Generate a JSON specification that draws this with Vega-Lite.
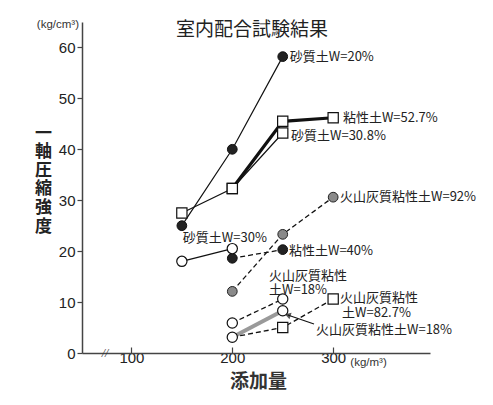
{
  "$schema": "https://vega.github.io/schema/vega-lite/v6.json",
  "width": 348,
  "height": 331,
  "autosize": {"type": "none"},
  "padding": {"left": 82, "top": 22, "right": 63, "bottom": 52},
  "background": "white",
  "config": {"view": {"stroke": null}, "font": "Noto Sans CJK JP"},
  "title": {"text": "室内配合試験結果", "anchor": "middle", "frame": "group", "fontSize": 19, "fontWeight": "normal", "font": "Noto Sans CJK JP", "color": "#222", "offset": -22, "baseline": "middle", "dx": -4, "dy": 8},
  "datasets": {
    "pts": [
      {"s": "砂質土W=20%", "x": 150, "y": 25},
      {"s": "砂質土W=20%", "x": 200, "y": 40},
      {"s": "砂質土W=20%", "x": 250, "y": 58.2},
      {"s": "砂質土W=30.8%", "x": 150, "y": 27.5},
      {"s": "砂質土W=30.8%", "x": 200, "y": 32.3},
      {"s": "砂質土W=30.8%", "x": 250, "y": 43.2},
      {"s": "粘性土W=52.7%", "x": 200, "y": 32.3},
      {"s": "粘性土W=52.7%", "x": 250, "y": 45.5},
      {"s": "粘性土W=52.7%", "x": 300, "y": 46.2},
      {"s": "砂質土W=30%", "x": 150, "y": 18},
      {"s": "砂質土W=30%", "x": 200, "y": 20.5},
      {"s": "粘性土W=40%", "x": 200, "y": 18.6},
      {"s": "粘性土W=40%", "x": 250, "y": 20.3},
      {"s": "火山灰質粘性土W=92%", "x": 200, "y": 12.1},
      {"s": "火山灰質粘性土W=92%", "x": 250, "y": 23.3},
      {"s": "火山灰質粘性土W=92%", "x": 300, "y": 30.6},
      {"s": "火山灰質粘性土W=18%(上)", "x": 200, "y": 5.9},
      {"s": "火山灰質粘性土W=18%(上)", "x": 250, "y": 10.6},
      {"s": "火山灰質粘性土W=18%(下)", "x": 200, "y": 3.1},
      {"s": "火山灰質粘性土W=18%(下)", "x": 250, "y": 8.3},
      {"s": "火山灰質粘性土W=82.7%", "x": 200, "y": 3.1},
      {"s": "火山灰質粘性土W=82.7%", "x": 250, "y": 5},
      {"s": "火山灰質粘性土W=82.7%", "x": 300, "y": 10.6}
    ],
    "labels": [
      {"t": "砂質土W=20%", "x": 257, "y": 58.1},
      {"t": "粘性土W=52.7%", "x": 309.7, "y": 46.1},
      {"t": "砂質土W=30.8%", "x": 258.2, "y": 42.6},
      {"t": "火山灰質粘性土W=92%", "x": 306.8, "y": 30.6},
      {"t": "砂質土W=30%", "x": 151, "y": 22.6},
      {"t": "粘性土W=40%", "x": 256.2, "y": 20},
      {"t": "火山灰質粘性", "x": 236.4, "y": 15.2},
      {"t": "土W=18%", "x": 236.4, "y": 12.4},
      {"t": "火山灰質粘性", "x": 306.8, "y": 10.8},
      {"t": "土W=82.7%", "x": 308.8, "y": 7.8},
      {"t": "火山灰質粘性土W=18%", "x": 283, "y": 4.6}
    ],
    "arrow": [
      {"x": 281, "y": 5.7, "o": 1},
      {"x": 255, "y": 7.45, "o": 2}
    ],
    "unitY": [{"t": "(kg/cm³)", "x": 50, "y": 64.4}],
    "unitX": [{"t": "(kg/m³)", "x": 317, "y": -2.0}],
    "brk": [{"t": "//", "x": 73.8, "y": 0}]
  },
  "layer": [
    {
      "data": {"name": "pts"},
      "transform": [{"filter": {"field": "s", "oneOf": ["砂質土W=20%", "砂質土W=30.8%", "砂質土W=30%"]}}],
      "mark": {"type": "line", "color": "#111", "strokeWidth": 1.2},
      "encoding": {
        "x": {"field": "x", "type": "quantitative", "scale": {"domain": [51, 396], "nice": false, "zero": false},
          "axis": {"title": "添加量", "values": [100, 200, 300], "grid": false, "tickSize": -6, "domainColor": "#444", "domainWidth": 1.5, "tickColor": "#444", "tickWidth": 1.2,
            "labelFont": "Liberation Sans", "labelFontSize": 15, "labelColor": "#222", "labelPadding": 3,
            "titleFont": "Noto Sans CJK JP", "titleFontSize": 19, "titleFontWeight": "bold", "titleColor": "#333", "titleBaseline": "middle", "titleY": 28, "titleX": 176}},
        "y": {"field": "y", "type": "quantitative", "scale": {"domain": [0, 65], "nice": false},
          "axis": {"title": ["一", "軸", "圧", "縮", "強", "度"], "values": [0, 10, 20, 30, 40, 50, 60], "grid": false, "tickSize": 5, "domainColor": "#444", "domainWidth": 1.5, "tickColor": "#444", "tickWidth": 1.2,
            "labelFont": "Liberation Sans", "labelFontSize": 15, "labelColor": "#222", "labelPadding": 2,
            "titleFont": "Noto Sans CJK JP", "titleFontSize": 17, "titleFontWeight": "bold", "titleColor": "#222", "titleAngle": 0, "titleAlign": "center", "titleBaseline": "middle", "titleLineHeight": 18.6, "titleX": -39, "titleY": 111}},
        "detail": {"field": "s"}
      }
    },
    {
      "data": {"name": "pts"},
      "transform": [{"filter": {"field": "s", "equal": "火山灰質粘性土W=18%(下)"}}],
      "mark": {"type": "line", "color": "#9a9a9a", "strokeWidth": 4},
      "encoding": {"x": {"field": "x", "type": "quantitative"}, "y": {"field": "y", "type": "quantitative"}}
    },
    {
      "data": {"name": "pts"},
      "transform": [{"filter": {"field": "s", "equal": "粘性土W=52.7%"}}],
      "mark": {"type": "line", "color": "#111", "strokeWidth": 3.2},
      "encoding": {"x": {"field": "x", "type": "quantitative"}, "y": {"field": "y", "type": "quantitative"}}
    },
    {
      "data": {"name": "pts"},
      "transform": [{"filter": {"field": "s", "oneOf": ["粘性土W=40%", "火山灰質粘性土W=92%", "火山灰質粘性土W=18%(上)", "火山灰質粘性土W=82.7%"]}}],
      "mark": {"type": "line", "color": "#111", "strokeWidth": 1.3, "strokeDash": [5, 3]},
      "encoding": {"x": {"field": "x", "type": "quantitative"}, "y": {"field": "y", "type": "quantitative"}, "detail": {"field": "s"}}
    },
    {
      "data": {"name": "arrow"},
      "mark": {"type": "line", "color": "#111", "strokeWidth": 1.1},
      "encoding": {"x": {"field": "x", "type": "quantitative"}, "y": {"field": "y", "type": "quantitative"}, "order": {"field": "o"}}
    },
    {
      "data": {"name": "arrow"},
      "transform": [{"filter": "datum.o === 2"}],
      "mark": {"type": "point", "shape": "triangle-up", "angle": 288, "size": 45, "filled": true, "color": "#111"},
      "encoding": {"x": {"field": "x", "type": "quantitative"}, "y": {"field": "y", "type": "quantitative"}}
    },
    {
      "data": {"name": "pts"},
      "transform": [{"filter": {"field": "s", "oneOf": ["砂質土W=20%", "粘性土W=40%"]}}],
      "mark": {"type": "point", "shape": "circle", "size": 95, "filled": true, "fill": "#222", "stroke": "#111", "strokeWidth": 1, "opacity": 1},
      "encoding": {"x": {"field": "x", "type": "quantitative"}, "y": {"field": "y", "type": "quantitative"}}
    },
    {
      "data": {"name": "pts"},
      "transform": [{"filter": {"field": "s", "equal": "火山灰質粘性土W=92%"}}],
      "mark": {"type": "point", "shape": "circle", "size": 95, "filled": true, "fill": "#8a8a8a", "stroke": "#222", "strokeWidth": 1, "opacity": 1},
      "encoding": {"x": {"field": "x", "type": "quantitative"}, "y": {"field": "y", "type": "quantitative"}}
    },
    {
      "data": {"name": "pts"},
      "transform": [{"filter": {"field": "s", "oneOf": ["砂質土W=30%", "火山灰質粘性土W=18%(上)", "火山灰質粘性土W=18%(下)"]}}],
      "mark": {"type": "point", "shape": "circle", "size": 105, "filled": true, "fill": "white", "stroke": "#111", "strokeWidth": 1.2, "opacity": 1},
      "encoding": {"x": {"field": "x", "type": "quantitative"}, "y": {"field": "y", "type": "quantitative"}}
    },
    {
      "data": {"name": "pts"},
      "transform": [
        {"filter": {"field": "s", "oneOf": ["粘性土W=52.7%", "砂質土W=30.8%", "火山灰質粘性土W=82.7%"]}},
        {"filter": "!(datum.s === '火山灰質粘性土W=82.7%' && datum.x === 200)"}
      ],
      "mark": {"type": "point", "shape": "square", "size": 105, "filled": true, "fill": "white", "stroke": "#111", "strokeWidth": 1.2, "opacity": 1},
      "encoding": {"x": {"field": "x", "type": "quantitative"}, "y": {"field": "y", "type": "quantitative"}}
    },
    {
      "data": {"name": "labels"},
      "mark": {"type": "text", "align": "left", "baseline": "middle", "fontSize": 13, "font": "Noto Sans CJK JP", "color": "#222"},
      "encoding": {"x": {"field": "x", "type": "quantitative"}, "y": {"field": "y", "type": "quantitative"}, "text": {"field": "t"}}
    },
    {
      "data": {"name": "unitY"},
      "mark": {"type": "text", "align": "right", "baseline": "middle", "fontSize": 11.5, "font": "Liberation Sans", "color": "#333", "dx": -2},
      "encoding": {"x": {"field": "x", "type": "quantitative"}, "y": {"field": "y", "type": "quantitative"}, "text": {"field": "t"}}
    },
    {
      "data": {"name": "unitX"},
      "mark": {"type": "text", "align": "left", "baseline": "middle", "fontSize": 11.5, "font": "Liberation Sans", "color": "#333"},
      "encoding": {"x": {"field": "x", "type": "quantitative"}, "y": {"field": "y", "type": "quantitative"}, "text": {"field": "t"}}
    },
    {
      "data": {"name": "brk"},
      "mark": {"type": "text", "align": "center", "baseline": "middle", "fontSize": 12, "fontStyle": "italic", "font": "Liberation Serif", "color": "#333"},
      "encoding": {"x": {"field": "x", "type": "quantitative"}, "y": {"field": "y", "type": "quantitative"}, "text": {"field": "t"}}
    }
  ]
}
